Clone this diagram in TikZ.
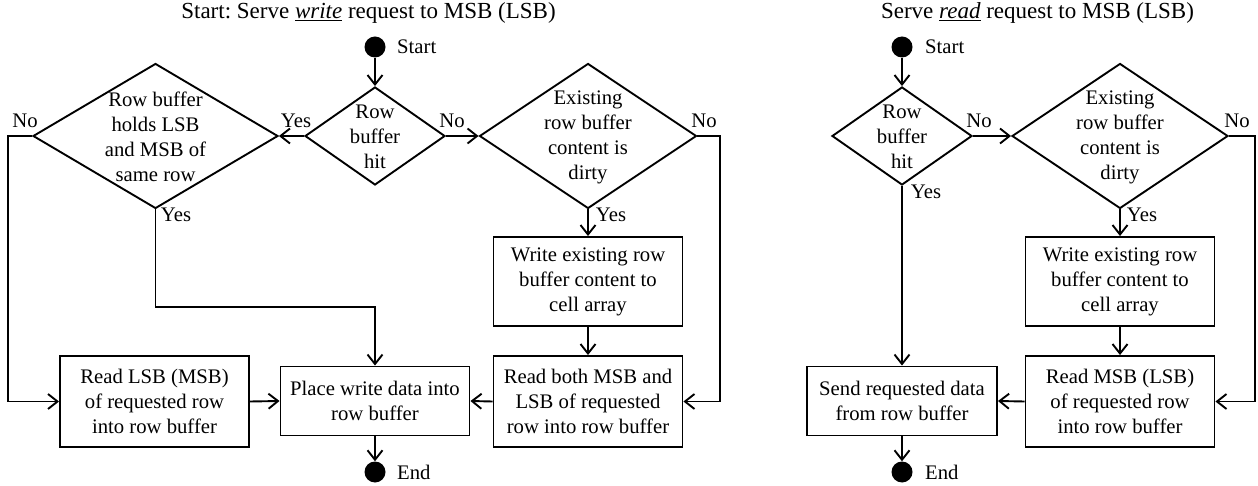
\documentclass[tikz,border=0pt]{standalone}
\usepackage{fontspec}
\setmainfont{Liberation Serif}
\usetikzlibrary{arrows.meta,shapes.geometric}
\frenchspacing
\begin{document}
\begin{tikzpicture}[x=1pt,y=-1pt,
  every node/.style={font=\fontsize{20.7pt}{25pt}\selectfont, inner sep=0pt},
  ln/.style={line width=1.9pt},
  arr/.style={ln, -{Straight Barb[length=9.5pt,width=15pt]}},
  box/.style={draw, line width=1.9pt, align=center},
  dia/.style={draw, diamond, line width=1.9pt},
  dot/.style={circle, fill, minimum size=21pt},
  txt/.style={align=center},
  ttl/.style={font=\fontsize{23pt}{27pt}\selectfont, anchor=base}]
\useasboundingbox (0,0) rectangle (1258,486);

% ---------- left: write ----------
\node[ttl] (t1) at (368.5,19) {Start: Serve \underline{\textit{write}} request to MSB (LSB)};
\node[dot] (s1) at (375,47) {};
\node[anchor=west] (st1) at (397,47) {Start};
\node[dia, minimum width=140pt, minimum height=98pt] (hit1) at (375,136) {};
\node[txt] (hit1t) at (375,137) {Row\\buffer\\hit};
\node[dia, minimum width=245pt, minimum height=145pt] (hold) at (155.5,136) {};
\node[txt] (holdt) at (155.5,137) {Row buffer\\holds LSB\\and MSB of\\same row};
\node[dia, minimum width=217pt, minimum height=145pt] (dirty1) at (588,136) {};
\node[txt] (dirty1t) at (588,137) {Existing\\row buffer\\content is\\dirty};
\node[box, minimum width=189pt, minimum height=89pt] (wr1) at (588,281.5) {Write existing row\\buffer content to\\cell array};
\node[box, minimum width=189pt, minimum height=91pt] (rb1) at (588,401.5) {Read both MSB and\\LSB of requested\\row into row buffer};
\node[box, minimum width=189pt, minimum height=69pt] (pl1) at (375,401) {Place write data into\\row buffer};
\node[box, minimum width=189pt, minimum height=91pt] (rl1) at (154.5,401.5) {Read LSB (MSB)\\of requested row\\into row buffer};
\node[dot] (e1) at (375,472) {};
\node[anchor=west] (en1) at (397,472) {End};

\node (n1) at (25,121) {No};
\node (y1) at (296,121) {Yes};
\node (n2) at (452,121) {No};
\node (n3) at (704,121) {No};
\node (y2) at (176,215) {Yes};
\node (y3) at (611,215) {Yes};

\coordinate (c1) at (8,136);
\coordinate (c2) at (375,307);
\coordinate (c3) at (720,136);

\draw[arr] (s1) -- (hit1.north);
\draw[arr] (hit1.west) -- (hold.east);
\draw[arr] (hit1.east) -- (dirty1.west);
\draw[arr] (hold.west) -- (c1) |- (rl1.west);
\draw[arr] (hold.south) |- (c2) -- (pl1.north);
\draw[arr] (dirty1.south) -- (wr1.north);
\draw[arr] (wr1.south) -- (rb1.north);
\draw[arr] (dirty1.east) -- (c3) |- (rb1.east);
\draw[arr] (rl1.east) -- (pl1.west);
\draw[arr] (rb1.west) -- (pl1.east);
\draw[arr] (pl1.south) -- (e1);

% ---------- right: read ----------
\node[ttl] (t2) at (1037.5,19) {Serve \underline{\textit{read}} request to MSB (LSB)};
\node[dot] (s2) at (902,47) {};
\node[anchor=west] (st2) at (925,47) {Start};
\node[dia, minimum width=140pt, minimum height=98pt] (hit2) at (902,136) {};
\node[txt] (hit2t) at (902,137) {Row\\buffer\\hit};
\node[dia, minimum width=216pt, minimum height=145pt] (dirty2) at (1120,136) {};
\node[txt] (dirty2t) at (1120,137) {Existing\\row buffer\\content is\\dirty};
\node[box, minimum width=189pt, minimum height=89pt] (wr2) at (1120,281.5) {Write existing row\\buffer content to\\cell array};
\node[box, minimum width=189pt, minimum height=91pt] (rm2) at (1120,401.5) {Read MSB (LSB)\\of requested row\\into row buffer};
\node[box, minimum width=190pt, minimum height=69pt] (sd2) at (902,401) {Send requested data\\from row buffer};
\node[dot] (e2) at (902,472) {};
\node[anchor=west] (en2) at (925,472) {End};

\node (n4) at (979,121) {No};
\node (n5) at (1237,121) {No};
\node (y4) at (926,192) {Yes};
\node (y5) at (1142,215) {Yes};

\coordinate (c4) at (1255,136);

\draw[arr] (s2) -- (hit2.north);
\draw[arr] (hit2.east) -- (dirty2.west);
\draw[arr] (hit2.south) -- (sd2.north);
\draw[arr] (dirty2.south) -- (wr2.north);
\draw[arr] (wr2.south) -- (rm2.north);
\draw[arr] (dirty2.east) -- (c4) |- (rm2.east);
\draw[arr] (rm2.west) -- (sd2.east);
\draw[arr] (sd2.south) -- (e2);
\end{tikzpicture}
\end{document}
